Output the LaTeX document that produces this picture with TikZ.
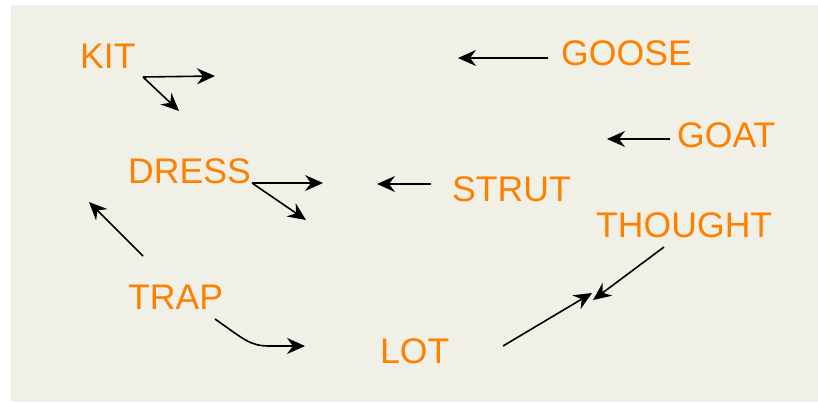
\documentclass[tikz,border=0pt]{standalone}
\usepackage{fontspec}
\setmainfont{Liberation Sans}
\usetikzlibrary{arrows.meta}
\definecolor{panel}{RGB}{241,240,230}
\definecolor{word}{RGB}{255,128,0}
\tikzset{
  lbl/.style={anchor=base west, inner sep=0pt, text=word, font=\fontsize{35.6}{36}\selectfont},
  arr/.style={draw=black, line width=1.6pt, -{Stealth[length=18pt,width=16pt,inset=6pt]}},
}
\begin{document}
\begin{tikzpicture}[x=1pt,y=-1pt]
  \useasboundingbox (0,0) rectangle (818,402);
  \fill[panel] (11,5) rectangle (818,402);

  % words
  \node[lbl] (kit)     at (80,68)   {KIT};
  \node[lbl] (goose)   at (561,65)  {GOOSE};
  \node[lbl] (goat)    at (677,147) {GOAT};
  \node[lbl] (dress)   at (128,183) {DRESS};
  \node[lbl] (strut)   at (452,201) {STRUT};
  \node[lbl] (thought) at (596,237) {THOUGHT};
  \node[lbl] (trap)    at (128,309) {TRAP};
  \node[lbl] (lot)     at (380,363) {LOT};

  % arrow end points
  \coordinate (kitS)  at (143,77);
  \coordinate (kitA)  at (215,76);
  \coordinate (kitB)  at (179,111);
  \coordinate (gooseS) at (548,58);
  \coordinate (gooseE) at (458,58);
  \coordinate (goatS) at (670,139);
  \coordinate (goatE) at (607,139);
  \coordinate (dressS) at (252,183);
  \coordinate (dressA) at (323,183);
  \coordinate (dressB) at (306,220);
  \coordinate (strutS) at (431,184);
  \coordinate (strutE) at (377,184);
  \coordinate (trapS) at (143,256);
  \coordinate (trapE) at (89,202);
  \coordinate (trapC) at (215,319);
  \coordinate (trapF) at (305,346);
  \coordinate (lotS) at (503,346);
  \coordinate (lotE) at (592,293);
  \coordinate (thS) at (664,247);
  \coordinate (thE) at (593,300);

  % arrows
  \draw[arr] (kitS) -- (kitA);
  \draw[arr] (kitS) -- (kitB);
  \draw[arr] (gooseS) -- (gooseE);
  \draw[arr] (goatS) -- (goatE);
  \draw[arr] (dressS) -- (dressA);
  \draw[arr] (dressS) -- (dressB);
  \draw[arr] (strutS) -- (strutE);
  \draw[arr] (trapS) -- (trapE);
  \draw[arr] (trapC) .. controls (245,340) and (250,346) .. (270,346) -- (trapF);
  \draw[arr] (lotS) -- (lotE);
  \draw[arr] (thS) -- (thE);
\end{tikzpicture}
\end{document}
